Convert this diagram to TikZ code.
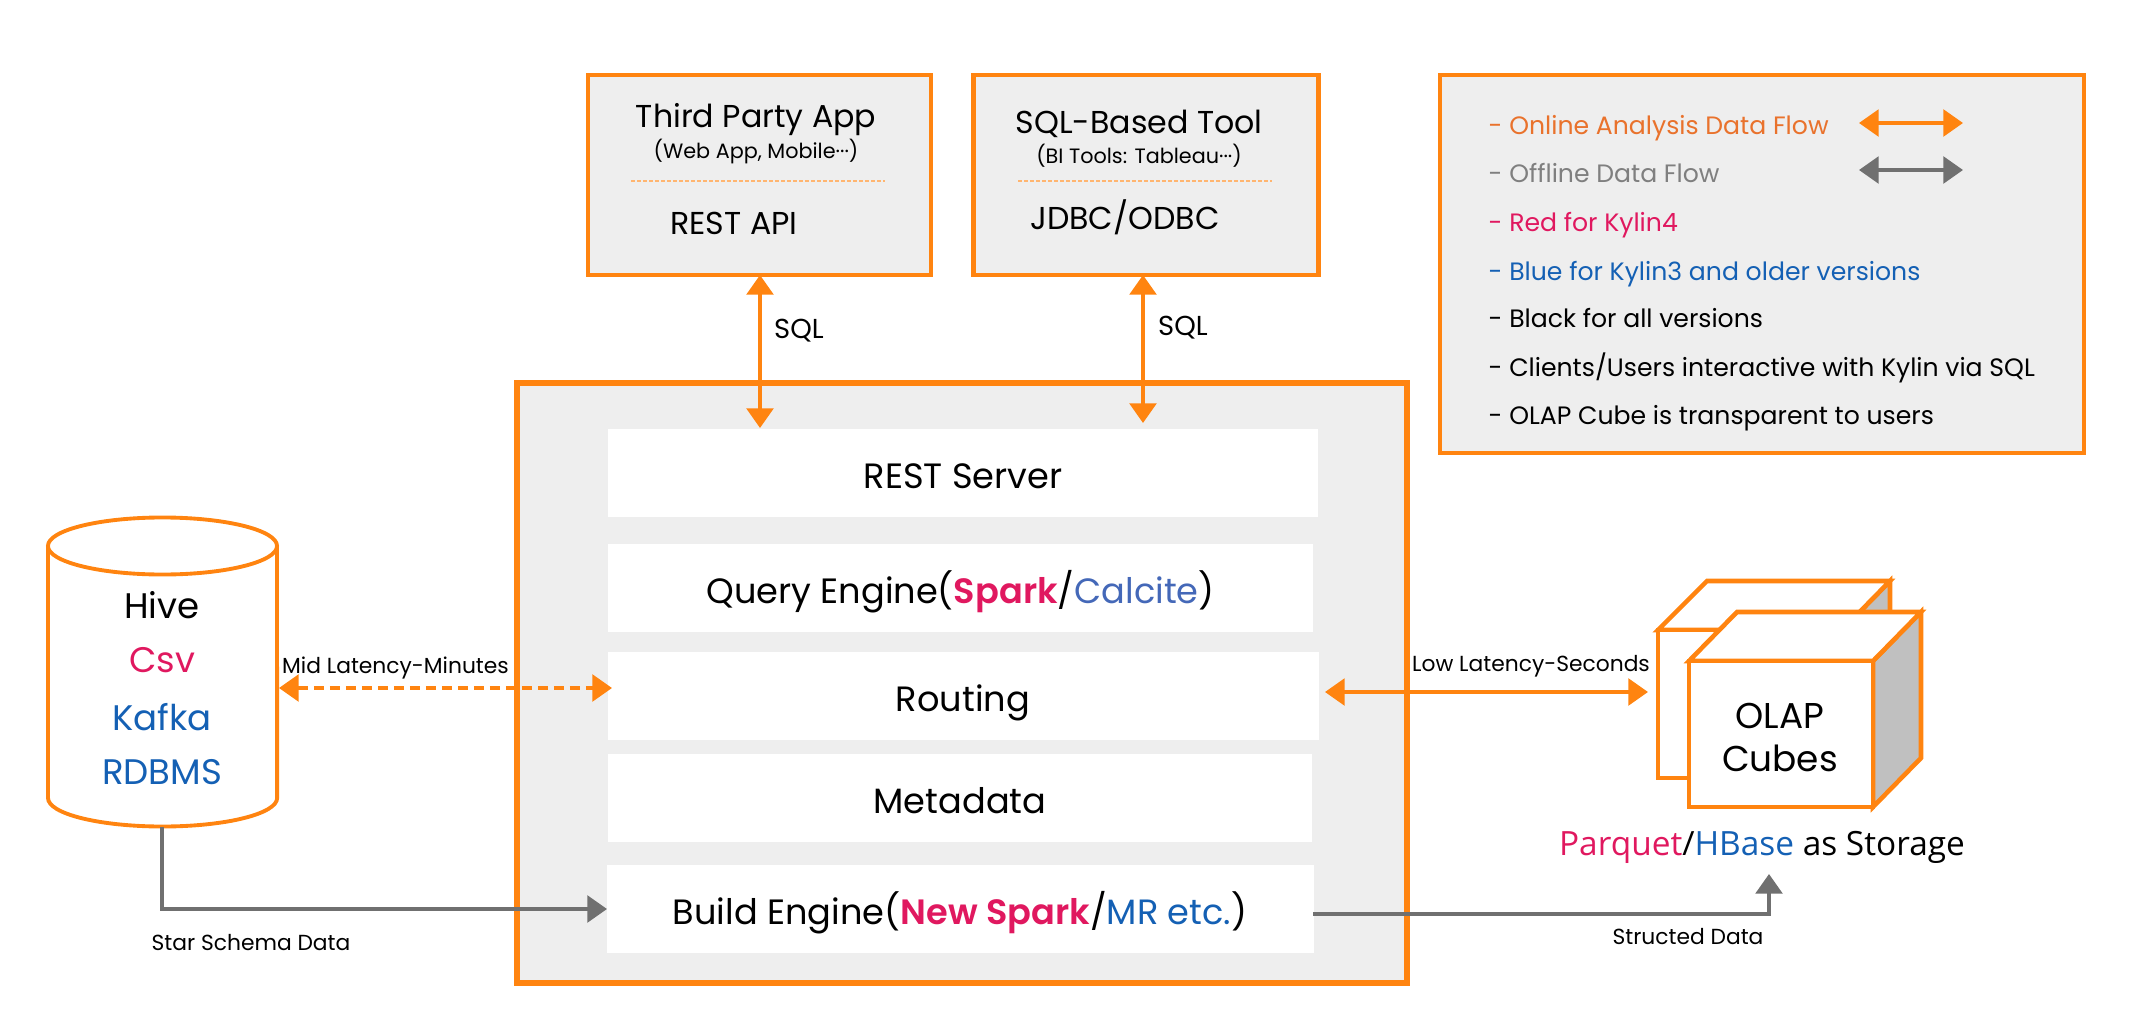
\documentclass[tikz,border=0pt]{standalone}
\usepackage{fontspec}
\setmainfont{Poppins}[BoldFont={Poppins SemiBold}]
\newfontfamily\storefont{Open Sans}
\usetikzlibrary{arrows.meta}
\definecolor{flowon}{HTML}{FF8410}
\definecolor{flowoff}{HTML}{707070}
\definecolor{kylinred}{HTML}{E0185F}
\definecolor{kylinblue}{HTML}{1460B4}
\definecolor{calciteblue}{HTML}{4468B8}
\definecolor{legendon}{HTML}{E9722C}
\definecolor{legendoff}{HTML}{7F7F7F}
\definecolor{panel}{HTML}{EEEEEE}
\definecolor{cubeside}{HTML}{C0C0C0}
\tikzset{
  panelbox/.style={draw=flowon, fill=panel, line width=1.3pt, inner sep=0},
  layerbox/.style={fill=white, inner sep=0, text height=9.2pt, text depth=0.5pt, font=\fontsize{10}{10}\selectfont},
  titletext/.style={font=\fontsize{9}{9}\selectfont},
  subtext/.style={font=\fontsize{5.9}{5.9}\selectfont},
  sqltext/.style={font=\fontsize{7.8}{7.8}\selectfont},
  smalltext/.style={font=\fontsize{6.2}{6.2}\selectfont},
  legendtext/.style={anchor=west, inner sep=0, text height=5.5pt, text depth=1.5pt, font=\fontsize{7.15}{7.15}\selectfont},
  storetext/.style={font=\fontsize{10.1}{10.1}\selectfont},
  onflow/.style={<->, draw=flowon, line width=1pt},
  offflow/.style={->, draw=flowoff, line width=1pt},
  cubeline/.style={draw=flowon, line width=1.3pt, line join=miter},
  fineline/.style={flowon!60, line width=0.4pt, dash pattern=on 0.04cm off 0.02cm},
}
\begin{document}
\begin{tikzpicture}[> = {Triangle[length=5.6pt, width=7.6pt]}, x=0.01cm, y=-0.01cm]
  \useasboundingbox (0,0) rectangle (2132,1018);

  % client boxes
  \node(thirdapp) at (759.5,175) [panelbox, minimum width=343*0.01cm, minimum height=200*0.01cm] {};
  \node(sqltool) at (1146,175) [panelbox, minimum width=345*0.01cm, minimum height=200*0.01cm] {};
  \node(thirdtitle) at (756,120) [titletext] {Third Party App};
  \node(thirdsub) at (756,152) [subtext] {(Web App, Mobile···)};
  \node(restapi) at (734,223) [titletext] {REST API};
  \node(sqltitle) at (1139,124) [titletext] {SQL-Based Tool};
  \node(sqlsub) at (1139,156) [subtext] {(BI Tools: Tableau···)};
  \node(jdbc) at (1125,217) [titletext] {JDBC/ODBC};
  \coordinate (thirddashl) at (631,181);
  \coordinate (thirddashr) at (885,181);
  \coordinate (sqldashl) at (1018,181);
  \coordinate (sqldashr) at (1272,181);
  \draw[fineline] (thirddashl) -- (thirddashr);
  \draw[fineline] (sqldashl) -- (sqldashr);

  % legend
  \node(legend) at (1762,264) [panelbox, minimum width=644*0.01cm, minimum height=378*0.01cm] {};
  \node(legonline) at (1488,127) [legendtext, text=legendon] {- Online Analysis Data Flow};
  \node(legoffline) at (1488,175) [legendtext, text=legendoff] {- Offline Data Flow};
  \node(legred) at (1488,224) [legendtext, text=kylinred] {- Red for Kylin4};
  \node(legblue) at (1488,273) [legendtext, text=kylinblue] {- Blue for Kylin3 and older versions};
  \node(legblack) at (1488,320) [legendtext] {- Black for all versions};
  \node(legclients) at (1488,369) [legendtext] {- Clients/Users interactive with Kylin via SQL};
  \node(legcube) at (1488,417) [legendtext] {- OLAP Cube is transparent to users};
  \coordinate (onl) at (1859,123);
  \coordinate (onr) at (1963,123);
  \coordinate (offl) at (1859,170);
  \coordinate (offr) at (1963,170);
  \draw[onflow] (onl) -- (onr);
  \draw[<->, draw=flowoff, line width=1pt] (offl) -- (offr);

  % kylin box
  \node(kylin) at (962,683) [panelbox, line width=1.8pt, minimum width=890*0.01cm, minimum height=600*0.01cm] {};
  \node(restserver) at (963,473) [layerbox, minimum width=710*0.01cm, minimum height=88*0.01cm] {REST Server};
  \node(query) at (960.5,588) [layerbox, minimum width=705*0.01cm, minimum height=88*0.01cm] {Query Engine(\textcolor{kylinred}{\textbf{Spark}}/\textcolor{calciteblue}{Calcite})};
  \node(routing) at (963,696) [layerbox, minimum width=711*0.01cm, minimum height=88*0.01cm] {Routing};
  \node(metadata) at (960,798) [layerbox, minimum width=704*0.01cm, minimum height=88*0.01cm] {Metadata};
  \node(build) at (960,909) [layerbox, minimum width=707*0.01cm, minimum height=88*0.01cm] {Build Engine(\textcolor{kylinred}{\textbf{New Spark}}/\textcolor{kylinblue}{MR etc.})};

  % hive cylinder
  \draw[draw=flowon, line width=1.1pt] (48,546) -- (48,798) arc[start angle=180, end angle=360, x radius=1.145cm, y radius=0.285cm] -- (277,546);
  \draw[draw=flowon, line width=1.1pt] (162.5,546) circle[x radius=1.145cm, y radius=0.285cm];
  \node(hivetext) at (162,605) [storetext] {Hive};
  \node(csvtext) at (162,660) [storetext, text=kylinred] {Csv};
  \node(kafkatext) at (162,717) [storetext, text=kylinblue] {Kafka};
  \node(rdbmstext) at (162,772) [storetext, text=kylinblue] {RDBMS};

  % olap cubes
  \coordinate (backa) at (1658,630);
  \coordinate (backb) at (1842,630);
  \coordinate (backc) at (1842,778);
  \coordinate (backd) at (1658,778);
  \coordinate (backe) at (1707,581);
  \coordinate (backf) at (1890,581);
  \coordinate (backg) at (1890,729);
  \draw[cubeline, fill=cubeside] (backb) -- (backf) -- (backg) -- (backc) -- cycle;
  \draw[cubeline, fill=white] (backa) -- (backe) -- (backf) -- (backb) -- cycle;
  \draw[cubeline, fill=white] (backa) -- (backb) -- (backc) -- (backd) -- cycle;
  \coordinate (fronta) at (1689,661);
  \coordinate (frontb) at (1873,661);
  \coordinate (frontc) at (1873,807);
  \coordinate (frontd) at (1689,807);
  \coordinate (fronte) at (1737,612);
  \coordinate (frontf) at (1921,612);
  \coordinate (frontg) at (1921,758);
  \draw[cubeline, fill=cubeside] (frontb) -- (frontf) -- (frontg) -- (frontc) -- cycle;
  \draw[cubeline, fill=white] (fronta) -- (fronte) -- (frontf) -- (frontb) -- cycle;
  \node(cubes) at (1781,734) [draw=flowon, line width=1.3pt, fill=white, minimum width=184*0.01cm, minimum height=146*0.01cm, inner sep=0] {};
  \node(cubetext) at (1780,737.5) [align=center, inner sep=0, font=\fontsize{10.2}{12.2}\selectfont] {OLAP\\Cubes};
  \node(storage) at (1762,847) [font=\fontsize{9.5}{9.5}\storefont] {\textcolor{kylinred}{Parquet}/\textcolor{kylinblue}{HBase} as Storage};

  % connectors
  \coordinate (thirdsql) at (760,428);
  \coordinate (thirdbot) at (760,275);
  \coordinate (toolsql) at (1143,423);
  \coordinate (toolbot) at (1143,275);
  \draw[onflow] (thirdbot) -- (thirdsql);
  \draw[onflow] (toolbot) -- (toolsql);
  \node(sqlone) at (799,331) [sqltext] {SQL};
  \node(sqltwo) at (1183,328) [sqltext] {SQL};

  \coordinate (midl) at (279,688);
  \coordinate (midr) at (612,688);
  \draw[onflow, dash pattern=on 0.1cm off 0.06cm] (midl) -- (midr);
  \node(midtext) at (395.5,668) [smalltext] {Mid Latency-Minutes};

  \coordinate (lowl) at (1325,692);
  \coordinate (lowr) at (1648,692);
  \draw[onflow] (lowl) -- (lowr);
  \node(lowtext) at (1531,666) [smalltext] {Low Latency-Seconds};

  \coordinate (hivebot) at (162,827);
  \coordinate (buildin) at (607,909);
  \draw[offflow] (hivebot) |- (buildin);
  \node(startext) at (251,943) [smalltext] {Star Schema Data};

  \coordinate (buildout) at (1313,914);
  \coordinate (storein) at (1769,874);
  \draw[offflow] (buildout) -| (storein);
  \node(structext) at (1688,937) [smalltext] {Structed Data};

\end{tikzpicture}
\end{document}
